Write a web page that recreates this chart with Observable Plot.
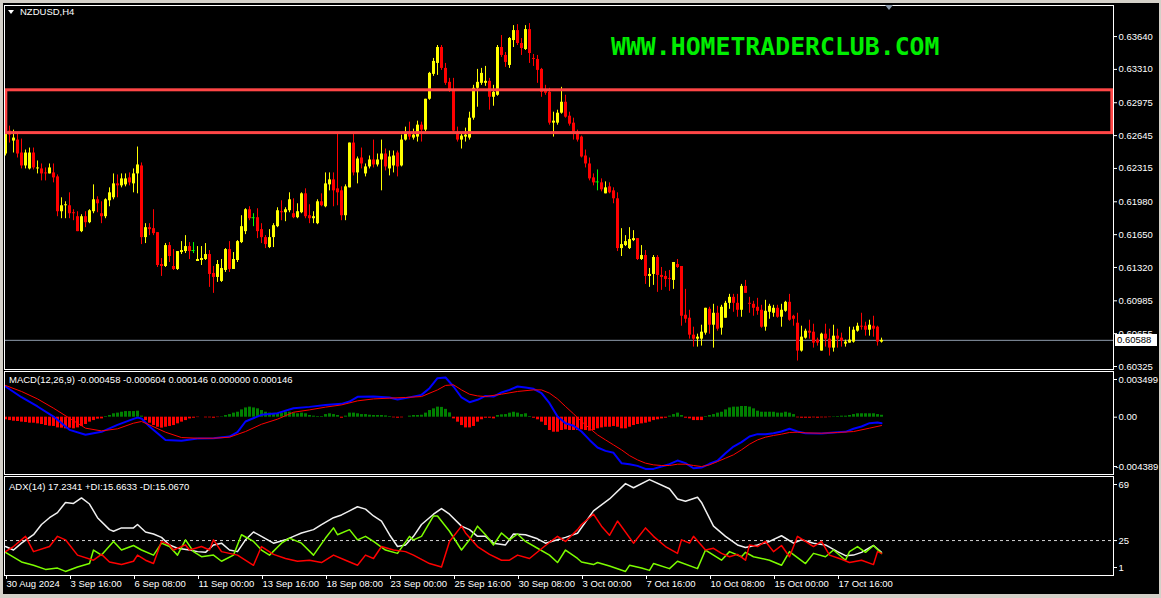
<!DOCTYPE html>
<html><head><meta charset="utf-8">
<script src="https://cdn.jsdelivr.net/npm/d3@7"></script>
<script src="https://cdn.jsdelivr.net/npm/@observablehq/plot@0.6"></script>
<style>
html,body{margin:0;padding:0;background:#d4d0c8;}
#chart{position:relative;width:1161px;height:598px;background:#d4d0c8;overflow:hidden;font-family:"Liberation Sans",Arial,sans-serif;}
#inner{position:absolute;left:3px;top:3px;width:1156px;height:591px;background:#000;}
.pane{position:absolute;left:0;}
.lbl{position:absolute;color:#fff;font-size:9.5px;white-space:nowrap;line-height:12px;transform:translateY(-50%);}
</style></head>
<body><div id="chart"><div id="inner"></div></div>
<script>
// ---------- DATA ----------
const symbolTitle = "NZDUSD,H4";
const watermark = "WWW.HOMETRADERCLUB.COM";
const open = [
0.6246,0.6269,0.6259,0.6260,0.6247,0.6234,0.6231,0.6247,0.6231,0.6231,
0.6227,0.6226,0.6227,0.6223,0.6188,0.6194,0.6194,0.6187,0.6183,0.6168,
0.6183,0.6177,0.6188,0.6200,0.6186,0.6183,0.6199,0.6202,0.6216,0.6214,
0.6215,0.6222,0.6216,0.6226,0.6234,0.6162,0.6172,0.6171,0.6167,0.6135,
0.6133,0.6154,0.6133,0.6130,0.6147,0.6148,0.6153,0.6149,0.6138,0.6139,
0.6140,0.6145,0.6126,0.6122,0.6118,0.6129,0.6150,0.6130,0.6139,0.6157,
0.6168,0.6190,0.6182,0.6182,0.6170,0.6162,0.6152,0.6162,0.6173,0.6188,
0.6187,0.6189,0.6186,0.6182,0.6187,0.6206,0.6184,0.6181,0.6176,0.6198,
0.6193,0.6215,0.6220,0.6211,0.6209,0.6184,0.6212,0.6257,0.6227,0.6242,
0.6226,0.6233,0.6240,0.6235,0.6240,0.6246,0.6231,0.6234,0.6247,0.6234,
0.6260,0.6267,0.6262,0.6263,0.6275,0.6270,0.6301,0.6326,0.6337,0.6353,
0.6332,0.6318,0.6310,0.6267,0.6260,0.6263,0.6262,0.6282,0.6312,0.6317,
0.6317,0.6319,0.6303,0.6305,0.6353,0.6345,0.6335,0.6360,0.6370,0.6357,
0.6351,0.6371,0.6342,0.6341,0.6331,0.6310,0.6308,0.6277,0.6277,0.6287,
0.6298,0.6284,0.6277,0.6267,0.6263,0.6244,0.6236,0.6222,0.6218,0.6217,
0.6206,0.6213,0.6209,0.6201,0.6151,0.6154,0.6151,0.6159,0.6161,0.6140,
0.6144,0.6123,0.6125,0.6142,0.6124,0.6123,0.6121,0.6119,0.6135,0.6133,
0.6084,0.6081,0.6064,0.6060,0.6060,0.6066,0.6090,0.6074,0.6086,0.6071,
0.6081,0.6096,0.6102,0.6096,0.6089,0.6113,0.6096,0.6095,0.6092,0.6089,
0.6072,0.6087,0.6086,0.6091,0.6082,0.6088,0.6097,0.6083,0.6076,0.6048,
0.6061,0.6068,0.6067,0.6059,0.6048,0.6065,0.6060,0.6051,0.6063,0.6061,
0.6055,0.6056,0.6057,0.6068,0.6073,0.6073,0.6069,0.6073,0.6072,0.6057];
const high = [
0.6272,0.6274,0.6270,0.6267,0.6261,0.6250,0.6252,0.6252,0.6239,0.6236,
0.6232,0.6236,0.6236,0.6225,0.6202,0.6198,0.6207,0.6190,0.6188,0.6185,
0.6188,0.6190,0.6215,0.6203,0.6198,0.6201,0.6212,0.6226,0.6225,0.6226,
0.6226,0.6227,0.6231,0.6253,0.6237,0.6176,0.6176,0.6190,0.6167,0.6141,
0.6156,0.6157,0.6150,0.6148,0.6158,0.6164,0.6157,0.6157,0.6153,0.6153,
0.6156,0.6149,0.6133,0.6139,0.6140,0.6151,0.6158,0.6147,0.6159,0.6184,
0.6191,0.6193,0.6186,0.6191,0.6176,0.6164,0.6170,0.6176,0.6192,0.6199,
0.6192,0.6207,0.6201,0.6196,0.6207,0.6211,0.6195,0.6188,0.6200,0.6206,
0.6227,0.6227,0.6227,0.6267,0.6213,0.6215,0.6257,0.6266,0.6243,0.6252,
0.6236,0.6244,0.6260,0.6246,0.6260,0.6251,0.6249,0.6249,0.6249,0.6265,
0.6273,0.6278,0.6271,0.6279,0.6278,0.6301,0.6328,0.6342,0.6355,0.6355,
0.6337,0.6322,0.6322,0.6273,0.6267,0.6272,0.6288,0.6315,0.6331,0.6332,
0.6334,0.6322,0.6315,0.6355,0.6365,0.6348,0.6363,0.6375,0.6376,0.6362,
0.6375,0.6377,0.6346,0.6345,0.6332,0.6315,0.6312,0.6288,0.6290,0.6313,
0.6305,0.6288,0.6282,0.6270,0.6264,0.6250,0.6242,0.6226,0.6230,0.6221,
0.6218,0.6217,0.6212,0.6207,0.6171,0.6164,0.6172,0.6169,0.6161,0.6154,
0.6149,0.6131,0.6144,0.6144,0.6132,0.6128,0.6129,0.6137,0.6140,0.6133,
0.6110,0.6089,0.6072,0.6065,0.6074,0.6091,0.6092,0.6095,0.6093,0.6094,
0.6098,0.6105,0.6105,0.6105,0.6115,0.6119,0.6102,0.6098,0.6101,0.6094,
0.6099,0.6095,0.6094,0.6094,0.6095,0.6098,0.6105,0.6084,0.6086,0.6073,
0.6070,0.6079,0.6075,0.6061,0.6066,0.6075,0.6070,0.6074,0.6070,0.6066,
0.6059,0.6072,0.6072,0.6076,0.6086,0.6077,0.6079,0.6083,0.6073,0.6061];
const low = [
0.6244,0.6257,0.6247,0.6242,0.6231,0.6231,0.6230,0.6230,0.6226,0.6219,
0.6219,0.6226,0.6217,0.6183,0.6181,0.6181,0.6181,0.6179,0.6168,0.6167,
0.6172,0.6176,0.6186,0.6187,0.6176,0.6181,0.6193,0.6200,0.6202,0.6212,
0.6213,0.6214,0.6207,0.6206,0.6155,0.6156,0.6164,0.6164,0.6132,0.6123,
0.6132,0.6137,0.6129,0.6129,0.6145,0.6146,0.6140,0.6146,0.6138,0.6134,
0.6139,0.6112,0.6106,0.6117,0.6117,0.6127,0.6127,0.6130,0.6137,0.6156,
0.6165,0.6179,0.6173,0.6161,0.6156,0.6151,0.6151,0.6152,0.6172,0.6179,
0.6178,0.6187,0.6181,0.6181,0.6186,0.6181,0.6176,0.6176,0.6175,0.6193,
0.6192,0.6209,0.6193,0.6194,0.6179,0.6179,0.6212,0.6224,0.6216,0.6231,
0.6223,0.6231,0.6232,0.6233,0.6209,0.6229,0.6224,0.6227,0.6223,0.6233,
0.6259,0.6260,0.6260,0.6258,0.6258,0.6268,0.6300,0.6324,0.6325,0.6330,
0.6315,0.6308,0.6268,0.6258,0.6251,0.6258,0.6260,0.6280,0.6293,0.6315,
0.6314,0.6290,0.6294,0.6304,0.6343,0.6333,0.6332,0.6353,0.6355,0.6345,
0.6350,0.6337,0.6334,0.6317,0.6303,0.6305,0.6275,0.6263,0.6275,0.6286,
0.6282,0.6274,0.6260,0.6258,0.6242,0.6232,0.6219,0.6214,0.6209,0.6208,
0.6206,0.6206,0.6196,0.6148,0.6143,0.6153,0.6150,0.6158,0.6139,0.6139,
0.6115,0.6112,0.6114,0.6107,0.6109,0.6112,0.6108,0.6110,0.6131,0.6073,
0.6076,0.6060,0.6052,0.6052,0.6053,0.6064,0.6065,0.6051,0.6068,0.6064,
0.6081,0.6090,0.6087,0.6082,0.6082,0.6106,0.6086,0.6083,0.6084,0.6071,
0.6068,0.6080,0.6082,0.6081,0.6072,0.6087,0.6078,0.6073,0.6038,0.6047,
0.6060,0.6060,0.6051,0.6053,0.6048,0.6052,0.6043,0.6047,0.6051,0.6052,
0.6052,0.6056,0.6056,0.6067,0.6069,0.6063,0.6063,0.6062,0.6053,0.6056];
const close = [
0.6267,0.6265,0.6262,0.6246,0.6234,0.6247,0.6247,0.6232,0.6232,0.6226,
0.6226,0.6232,0.6222,0.6188,0.6194,0.6195,0.6186,0.6186,0.6168,0.6183,
0.6177,0.6189,0.6200,0.6196,0.6183,0.6200,0.6207,0.6216,0.6214,0.6221,
0.6221,0.6217,0.6226,0.6235,0.6162,0.6172,0.6170,0.6166,0.6134,0.6133,
0.6154,0.6143,0.6130,0.6148,0.6149,0.6153,0.6148,0.6149,0.6140,0.6141,
0.6145,0.6125,0.6122,0.6135,0.6131,0.6150,0.6130,0.6140,0.6158,0.6173,
0.6190,0.6181,0.6182,0.6168,0.6162,0.6155,0.6162,0.6174,0.6189,0.6187,
0.6190,0.6200,0.6182,0.6188,0.6206,0.6183,0.6181,0.6183,0.6198,0.6194,
0.6216,0.6220,0.6209,0.6207,0.6184,0.6213,0.6257,0.6227,0.6241,0.6236,
0.6233,0.6240,0.6235,0.6240,0.6246,0.6233,0.6243,0.6244,0.6233,0.6260,
0.6267,0.6263,0.6265,0.6275,0.6270,0.6301,0.6327,0.6339,0.6353,0.6332,
0.6317,0.6310,0.6269,0.6260,0.6264,0.6265,0.6282,0.6312,0.6318,0.6327,
0.6319,0.6303,0.6308,0.6353,0.6345,0.6338,0.6362,0.6370,0.6357,0.6352,
0.6371,0.6347,0.6341,0.6330,0.6308,0.6307,0.6277,0.6279,0.6287,0.6298,
0.6283,0.6276,0.6268,0.6260,0.6243,0.6236,0.6221,0.6217,0.6218,0.6210,
0.6212,0.6207,0.6201,0.6151,0.6155,0.6158,0.6160,0.6161,0.6140,0.6144,
0.6123,0.6125,0.6142,0.6124,0.6122,0.6120,0.6120,0.6137,0.6132,0.6083,
0.6080,0.6064,0.6060,0.6062,0.6067,0.6091,0.6074,0.6086,0.6070,0.6092,
0.6096,0.6102,0.6096,0.6089,0.6113,0.6106,0.6095,0.6091,0.6088,0.6072,
0.6088,0.6093,0.6091,0.6082,0.6089,0.6097,0.6079,0.6080,0.6048,0.6062,
0.6068,0.6066,0.6056,0.6056,0.6065,0.6060,0.6051,0.6063,0.6060,0.6058,
0.6057,0.6059,0.6069,0.6073,0.6072,0.6069,0.6074,0.6070,0.6057,0.60588];
const lastPrice = 0.60588;
const priceTicks = [0.63640,0.63310,0.62975,0.62645,0.62315,0.61980,0.61650,0.61320,0.60985,0.60655,0.60325];
const priceDomain = [0.60295, 0.63952];
const zone = [{x1: 0.2, x2: 276.7, y1: 0.6267, y2: 0.6310}];

// MACD(12,26,9)
const macdTitle = "MACD(12,26,9) -0.000458 -0.000604 0.000146 0.000000 0.000146";
const macdDomain = [-0.004389, 0.003499];
const macdIdx = [0,4,8,12,16,20,24,28,32,33,34,36,40,44,48,52,56,58,60,64,68,72,76,80,84,86,88,92,96,98,100,104,106,108,110,112,114,116,118,120,122,124,126,128,130,132,134,136,138,140,142,144,146,148,150,152,154,156,158,160,162,164,166,168,170,172,174,176,178,180,182,184,186,188,190,192,194,196,198,200,204,208,210,212,214,216,218,219];
const macdMain = [0.00235,0.00153,0.00082,0.00005,-0.00097,-0.00135,-0.00112,-0.00059,-0.00013,-0.00003,-0.0001,-0.00071,-0.00174,-0.00181,-0.00163,-0.00161,-0.00148,-0.00115,-0.00033,0.00018,0.00031,0.00069,0.00079,0.00094,0.00102,0.0012,0.00156,0.00158,0.00151,0.00135,0.00146,0.00171,0.00222,0.00299,0.00304,0.00235,0.00151,0.00115,0.00133,0.00163,0.00158,0.00189,0.00209,0.00235,0.00227,0.00217,0.00184,0.00107,0.00005,-0.00046,-0.00066,-0.0011,-0.00174,-0.00232,-0.00258,-0.00273,-0.00352,-0.0036,-0.00373,-0.00396,-0.00396,-0.00378,-0.0036,-0.00332,-0.00352,-0.00391,-0.00386,-0.00357,-0.00334,-0.00276,-0.00225,-0.00191,-0.00148,-0.0013,-0.0013,-0.00123,-0.0011,-0.00089,-0.0011,-0.00123,-0.00125,-0.00115,-0.00112,-0.00089,-0.00071,-0.00046,-0.00041,-0.00046];
const sigIdx = [0,4,8,12,16,20,24,28,32,34,36,40,44,48,52,56,60,64,68,72,76,80,84,88,92,96,100,104,108,110,112,114,116,118,120,124,128,132,134,136,138,140,142,144,146,148,150,152,154,156,158,160,162,164,166,168,170,172,174,176,178,180,182,184,186,188,190,192,194,196,198,200,204,208,212,216,219];
const sigVal = [0.00243,0.00197,0.0014,0.00069,-0.00008,-0.00084,-0.00105,-0.00089,-0.00046,-0.00033,-0.00059,-0.00115,-0.00156,-0.00161,-0.00161,-0.00153,-0.0011,-0.00054,-0.00015,0.00038,0.00056,0.00077,0.00094,0.00125,0.0014,0.00146,0.00151,0.00158,0.00209,0.00243,0.00248,0.00209,0.00176,0.00163,0.00158,0.00176,0.00197,0.00209,0.00209,0.00184,0.0014,0.00082,0.00026,-0.00033,-0.00084,-0.00135,-0.00174,-0.00212,-0.0025,-0.00294,-0.00327,-0.00352,-0.00365,-0.0037,-0.0037,-0.0036,-0.0036,-0.0037,-0.00378,-0.00365,-0.0034,-0.00314,-0.00288,-0.0025,-0.00207,-0.00174,-0.00153,-0.0014,-0.0013,-0.00117,-0.00115,-0.0012,-0.00123,-0.00117,-0.0011,-0.00084,-0.00064];
const hist = [
-0.0002,-0.00026,-0.00031,-0.00033,-0.00038,-0.00041,-0.00046,-0.00046,-0.00051,-0.00056,
-0.00064,-0.00069,-0.00071,-0.00082,-0.00084,-0.00089,-0.00084,-0.00089,-0.00082,-0.00071,
-0.00056,-0.00038,-0.00026,-0.00015,-0.00013,0.00005,0.00013,0.00026,0.00031,0.00038,
0.00043,0.00043,0.00043,0.00046,0.00008,-0.00026,-0.00046,-0.00064,-0.00077,-0.00084,
-0.00077,-0.00071,-0.00064,-0.00051,-0.00038,-0.00026,-0.00013,-0.00008,-0.00003,0,
-0.00005,-0.00005,-0.00008,-0.00003,0.00003,0.00013,0.0002,0.00031,0.00038,0.00056,
0.00071,0.00077,0.00071,0.00064,0.00051,0.00038,0.00031,0.00026,0.00026,0.00031,
0.00038,0.00038,0.00031,0.00026,0.00031,0.00026,0.00013,0.00008,0.00005,0.00005,
0.0002,0.00026,0.0002,0.00013,-0.00008,0.00008,0.00031,0.00031,0.00026,0.0002,
0.0002,0.00015,0.00013,0.00013,0.00013,0.0001,0.00005,-0.00005,-0.00008,-0.00005,
0,0.00008,0.00013,0.00013,0.00015,0.00031,0.00051,0.00064,0.00077,0.00075,
0.0006,0.00033,-0.00013,-0.00038,-0.00064,-0.00082,-0.00082,-0.00071,-0.00038,-0.0002,
-0.00008,-0.00008,-0.00013,0.00013,0.00018,0.0002,0.00031,0.00038,0.00031,0.0002,
0.00026,0.00005,-0.00008,-0.0002,-0.00038,-0.00064,-0.00102,-0.00115,-0.00115,-0.00102,
-0.00097,-0.00102,-0.00102,-0.00102,-0.00097,-0.00102,-0.00107,-0.00102,-0.00089,-0.00082,
-0.00077,-0.00077,-0.00071,-0.00077,-0.00089,-0.00089,-0.00077,-0.00064,-0.00056,-0.00051,
-0.00046,-0.00038,-0.00026,-0.0002,-0.00013,-0.00008,0.00008,0.0002,0.00031,0.00013,
-0.00008,-0.00013,-0.00026,-0.00026,-0.00026,0.00005,0.00013,0.0002,0.00031,0.00038,
0.00056,0.00071,0.00077,0.00077,0.00082,0.00082,0.00077,0.00064,0.00046,0.00038,
0.00038,0.00038,0.00038,0.00031,0.00031,0.00038,0.00031,0.0002,-0.00005,-0.00008,
-0.00008,-0.00008,-0.00005,-0.00008,-0.00005,-0.00005,-0.00003,0.00003,0.00005,0.00008,
0.00008,0.00013,0.0002,0.00026,0.00026,0.00026,0.00026,0.00026,0.0002,0.000146];

// ADX(14)
const adxTitle = "ADX(14) 17.2341 +DI:15.6633 -DI:15.0670";
const adxDomain = [1, 69];
const adxLevel = 25;
const adxIdx = [0,2,4,7,9,11,13,15,17,19,21,23,26,27,29,32,33,35,37,39,41,43,46,48,50,52,54,56,58,60,62,64,67,70,72,74,77,79,82,84,86,88,90,92,94,96,98,100,102,104,107,109,111,114,116,118,120,122,125,127,130,133,135,138,140,143,147,151,155,157,161,166,168,170,173,174,177,180,183,185,188,191,194,197,199,202,205,208,210,212,214,217,219];
const adxVal = [20.9,18.5,23.2,29,36,40.7,44.2,51.2,50.5,54.3,50.1,40.7,32.5,31.4,33.7,33.7,36,30.9,29.5,27.2,22,19.7,18.5,17.4,16.9,22,23.2,18.5,17.4,25.5,30.9,27.9,23.2,25.5,27.9,30.2,32.5,36,40.7,42.6,45.4,48.2,46.6,41.9,38.4,29,20.9,22,27.9,36,43.1,47,43.1,34.9,32.5,27.9,27.9,23.2,22,29.5,29,26.2,23.2,25.5,27.2,30,45.4,53.6,64.1,61.3,66.9,60.6,53.6,52,54.7,51.2,34.9,27.9,22,20.2,22,24.4,28.3,23.2,25.5,23.2,22,17.4,14.6,15,16.9,21.6,16.9];
const pdiIdx = [0,4,7,10,13,15,18,21,22,24,27,29,32,34,37,39,41,43,45,47,49,52,54,57,59,62,64,66,69,71,74,77,80,82,83,86,88,90,92,95,98,101,102,104,107,108,111,114,116,118,120,122,124,126,128,130,133,136,138,140,143,144,147,148,151,155,156,159,161,162,166,168,173,175,179,181,184,185,187,191,194,196,200,202,205,207,210,211,213,215,217,219];
const pdiVal = [16.9,10.3,8,5.2,6.1,3.8,6.8,9.2,18.5,15,24.4,18.5,21.6,18.5,15,23.2,20.9,15,25.5,17.4,13.9,15,10.8,15,29,24.4,18.5,15,23.2,26.7,23.2,15,26.7,33.7,29,32.5,25.5,27.9,24.4,18.5,16.2,27.9,25.5,27.9,41.9,41.9,31.4,18.5,25.5,34.9,29,22,30.2,25.5,29.5,24.4,19.7,15,9.9,18.5,12.7,10.3,8.5,9.9,7.5,3.8,8,6.1,4.5,9.2,5.7,10.8,5.7,18.5,11.5,17.4,13.9,16.9,13.9,11.5,8,17.4,9.2,16.2,13.9,18.5,11.5,17.4,20.9,16.9,21.6,16.2];
const mdiIdx = [0,2,5,7,11,13,15,18,22,24,26,29,32,33,35,37,39,41,42,45,46,49,51,52,54,58,62,64,67,70,73,76,79,82,85,88,90,92,94,97,100,102,106,109,111,114,115,118,121,124,126,128,131,135,138,140,143,144,147,149,151,153,157,160,162,165,168,169,171,172,175,177,179,181,183,185,186,188,190,192,194,196,198,200,202,204,206,209,211,214,217,218,219];
const mdiVal = [17.4,20.9,27.9,17.4,20.9,27.9,25.5,15,11.5,15.5,10.3,8.5,10.8,15,11.5,9.2,24.4,22,18.5,22,18.5,20.9,18.5,25.5,17.4,15,8,20.9,15.5,12.7,10.8,11.5,9.9,15,11.5,8,15,12.7,20.9,18.5,17.4,15,9.2,6.8,24.4,34.9,30.2,20.9,15.5,11.5,11.5,15,12.7,21.6,27.9,24.4,32.5,36,43.1,34.9,28.6,38.4,23.2,33.7,27.9,20.9,16.2,25.5,23.2,27.9,18.5,19.7,16.2,13.9,15.5,11.5,22,20.9,24.4,17.4,21.6,13.9,27.9,24.4,20.9,24.4,15,12.2,9.9,11.5,8.5,17.4,16.2];

// time axis
const dateIdx = [0,16,32,48,64,80,96,112,128,144,160,176,192,208];
const dateLabels = ["30 Aug 2024","3 Sep 16:00","6 Sep 08:00","11 Sep 00:00","13 Sep 16:00","18 Sep 08:00","23 Sep 00:00","25 Sep 16:00","30 Sep 08:00","3 Oct 00:00","7 Oct 16:00","10 Oct 08:00","15 Oct 00:00","17 Oct 16:00"];

// ---------- BUILD ----------
const chart = document.getElementById("chart");
const bars = open.map((o, i) => ({i, o, h: high[i], l: low[i], c: close[i]}));
const candleColor = d => d.c > d.o ? "#ffff00" : d.c < d.o ? "#ff0000" : "#00ff00";
const toPts = (idx, vals) => idx.map((i, k) => ({i, v: vals[k]}));

const common = {
  width: 1161, marginLeft: 4, marginRight: 48,
  x: {domain: [-0.25, 277], axis: null},
  color: {type: "identity"},
  style: {background: "transparent", color: "#ffffff", fontFamily: "'Liberation Sans', Arial, sans-serif", fontSize: "9.5px", overflow: "visible"}
};
const axR = {anchor: "right", tickSize: 3, tickPadding: 2, stroke: "#ffffff", fill: "#ffffff", label: null};

const pricePlot = Plot.plot({
  ...common, height: 370, marginTop: 5, marginBottom: 1,
  y: {domain: priceDomain, axis: null},
  marks: [
    Plot.ruleY([lastPrice], {stroke: "#8d9aab"}),
    Plot.ruleX(bars, {x: "i", y1: "l", y2: "h", stroke: candleColor}),
    Plot.ruleX(bars.filter(d => d.o !== d.c), {x: "i", y1: "o", y2: "c", stroke: candleColor, strokeWidth: 3}),
    Plot.ruleY(bars.filter(d => d.o === d.c), {y: "c", x1: d => d.i - 0.4, x2: d => d.i + 0.4, stroke: "#00ff00"}),
    Plot.rect(zone, {x1: "x1", x2: "x2", y1: "y1", y2: "y2", fill: "none", stroke: "#ff4646", strokeWidth: 3}),
    Plot.frame({stroke: "#ffffff"}),
    Plot.axisY({...axR, ticks: priceTicks, tickFormat: d => d.toFixed(5)})
  ]
});
pricePlot.classList.add("pane"); pricePlot.style.top = "0px";
chart.appendChild(pricePlot);

const macdPlot = Plot.plot({
  ...common, height: 106, marginTop: 1, marginBottom: 2,
  y: {domain: macdDomain, axis: null},
  marks: [
    Plot.ruleX(hist.map((v, i) => ({i, v})), {x: "i", y1: 0, y2: "v", stroke: d => d.v >= 0 ? "#008000" : "#ff0000", strokeWidth: 3}),
    Plot.line(toPts(macdIdx, macdMain), {x: "i", y: "v", stroke: "#0000ff", strokeWidth: 2}),
    Plot.line(toPts(sigIdx, sigVal), {x: "i", y: "v", stroke: "#ff0000", strokeWidth: 1}),
    Plot.frame({stroke: "#ffffff"}),
    Plot.axisY({...axR, ticks: [macdDomain[1]], tickFormat: d => d.toFixed(6), dy: 8}),
    Plot.axisY({...axR, ticks: [0], tickFormat: () => "0.00"}),
    Plot.axisY({...axR, ticks: [macdDomain[0]], tickFormat: d => d.toFixed(6), dy: -8, tickPadding: -1})
  ]
});
macdPlot.classList.add("pane"); macdPlot.style.top = "370px";
chart.appendChild(macdPlot);

const adxPlot = Plot.plot({
  ...common, height: 122, marginTop: 0, marginBottom: 23,
  y: {domain: adxDomain, axis: null},
  marks: [
    Plot.ruleY([adxLevel], {stroke: "#d0d0d0", strokeDasharray: "3,3"}),
    Plot.line(toPts(adxIdx, adxVal), {x: "i", y: "v", stroke: "#f0f0f0"}),
    Plot.line(toPts(pdiIdx, pdiVal), {x: "i", y: "v", stroke: "#7cfc00"}),
    Plot.line(toPts(mdiIdx, mdiVal), {x: "i", y: "v", stroke: "#ff0000"}),
    Plot.frame({stroke: "#ffffff"}),
    Plot.axisY({...axR, ticks: [adxDomain[1]], tickFormat: d => String(d), dy: 8}),
    Plot.axisY({...axR, ticks: [adxLevel], tickFormat: d => String(d)}),
    Plot.axisY({...axR, ticks: [adxDomain[0]], tickFormat: d => String(d), dy: -8}),
    Plot.axisX({anchor: "bottom", label: null, ticks: dateIdx, tickFormat: d => dateLabels[dateIdx.indexOf(d)], textAnchor: "start", tickSize: 4, tickPadding: 1, dx: 1, stroke: "#ffffff", fill: "#ffffff"})
  ]
});
adxPlot.classList.add("pane"); adxPlot.style.top = "476px";
chart.appendChild(adxPlot);

// ---------- TEXT OVERLAYS ----------
function label(text, left, cy, extra) {
  const d = document.createElement("div");
  d.className = "lbl"; d.textContent = text;
  d.style.left = left + "px"; d.style.top = cy + "px";
  if (extra) Object.assign(d.style, extra);
  chart.appendChild(d); return d;
}
const tri = document.createElement("div");
Object.assign(tri.style, {position: "absolute", left: "8px", top: "10px", width: 0, height: 0,
  borderLeft: "3.5px solid transparent", borderRight: "3.5px solid transparent", borderTop: "4px solid #ffffff"});
chart.appendChild(tri);
label(symbolTitle, 20, 12);
label(macdTitle, 9, 380);
label(adxTitle, 9, 487);
const shift = document.createElement("div");
Object.assign(shift.style, {position: "absolute", left: "885px", top: "5px", width: 0, height: 0,
  borderLeft: "4px solid transparent", borderRight: "4px solid transparent", borderTop: "5px solid #8796a8"});
chart.appendChild(shift);
const wm = document.createElement("div");
wm.textContent = watermark;
Object.assign(wm.style, {position: "absolute", left: "611px", top: "35px", color: "#00ee00",
  font: "bold 24.8px 'DejaVu Sans Mono', monospace", lineHeight: "1", whiteSpace: "nowrap"});
chart.appendChild(wm);
const yPix = pricePlot.scale("y").apply(lastPrice);
label(lastPrice.toFixed(5), 1115, yPix, {background: "#ffffff", color: "#000000", padding: "0 2px", width: "38px"});
</script>
</body></html>
